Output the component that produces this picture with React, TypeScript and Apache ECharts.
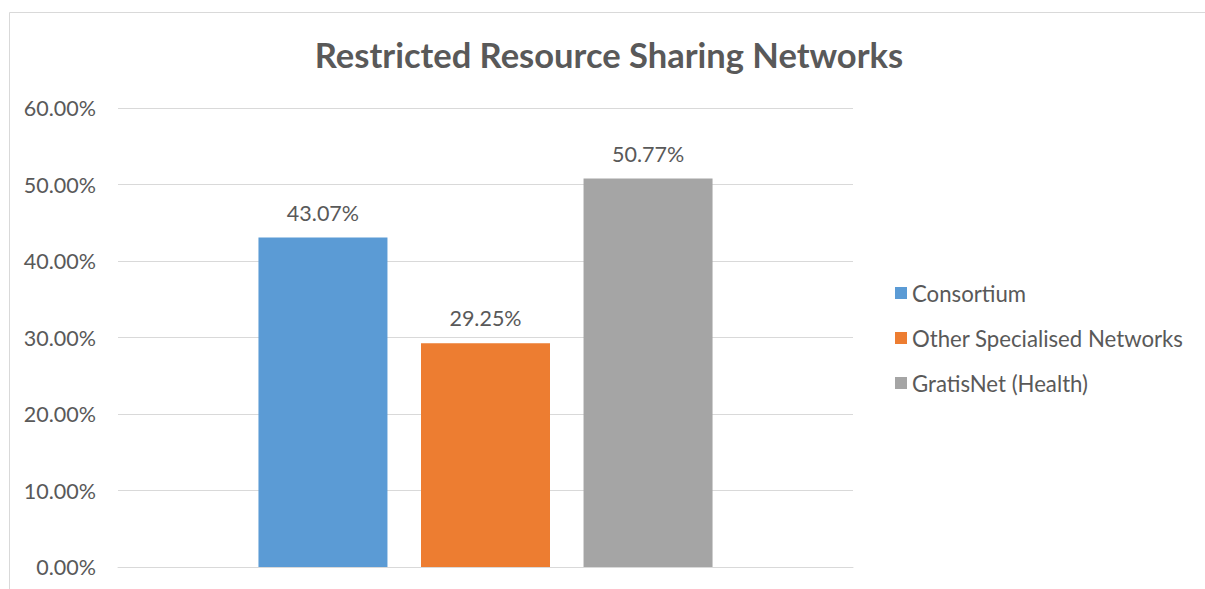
import React, { useEffect, useRef } from "react";
import * as echarts from "echarts";

const title = "Restricted Resource Sharing Networks";
const categories = [""];
const seriesNames = ["Consortium", "Other Specialised Networks", "GratisNet (Health)"];
const seriesValues = [43.07, 29.25, 50.77];
const seriesColors = ["#5B9BD5", "#ED7D31", "#A5A5A5"];
const yTicks = { min: 0, max: 60, interval: 10 };

const FONT = "Lato, 'Noto Sans', sans-serif";
const TEXT = "#595959";

export default function App() {
  const ref = useRef<HTMLDivElement>(null);
  useEffect(() => {
    if (!ref.current) return;
    const chart = echarts.init(ref.current, undefined, { renderer: "svg" });
    chart.setOption({
      animation: false,
      backgroundColor: "#ffffff",
      textStyle: { fontFamily: FONT },
      title: {
        text: title,
        left: 604,
        top: 32,
        textAlign: "center",
        textStyle: { fontFamily: FONT, fontSize: 34.5, fontWeight: "bold", color: TEXT },
      },
      graphic: [
        {
          type: "rect",
          left: 7,
          top: 10,
          shape: { width: 1400, height: 800 },
          style: { fill: "none", stroke: "#D9D9D9", lineWidth: 1 },
          silent: true,
          z: -1,
        },
      ],
      legend: {
        orient: "vertical",
        left: 895,
        top: 280,
        padding: 0,
        itemWidth: 12,
        itemHeight: 12,
        itemGap: 19,
        itemTextGap: 7,
        icon: "rect",
        data: seriesNames,
        textStyle: { fontFamily: FONT, fontSize: 22.2, color: TEXT, lineHeight: 26 },
      },
      grid: { left: 118, right: 352, top: 108, bottom: 22, containLabel: false },
      xAxis: {
        type: "category",
        data: categories,
        axisLine: { show: true, lineStyle: { color: "#D9D9D9" } },
        axisTick: { show: false },
        axisLabel: { show: false },
      },
      yAxis: {
        type: "value",
        min: yTicks.min,
        max: yTicks.max,
        interval: yTicks.interval,
        axisLine: { show: false },
        axisTick: { show: false },
        splitLine: { lineStyle: { color: "#D9D9D9", width: 1 } },
        axisLabel: {
          fontFamily: FONT,
          fontSize: 21.5,
          color: TEXT,
          margin: 22,
          formatter: (v: number) => v.toFixed(2) + "%",
        },
      },
      series: seriesNames.map((name, i) => ({
        name,
        type: "bar",
        data: [seriesValues[i]],
        barWidth: 129,
        barGap: "26%",
        itemStyle: { color: seriesColors[i] },
        label: {
          show: true,
          position: "top",
          distance: 14,
          fontFamily: FONT,
          fontSize: 21.5,
          color: TEXT,
          formatter: (p: any) => Number(p.value).toFixed(2) + "%",
        },
      })),
    });
    return () => chart.dispose();
  }, []);
  return (
    <div
      ref={ref}
      style={{ position: "fixed", left: 0, top: 0, width: 1205, height: 589 }}
    />
  );
}
